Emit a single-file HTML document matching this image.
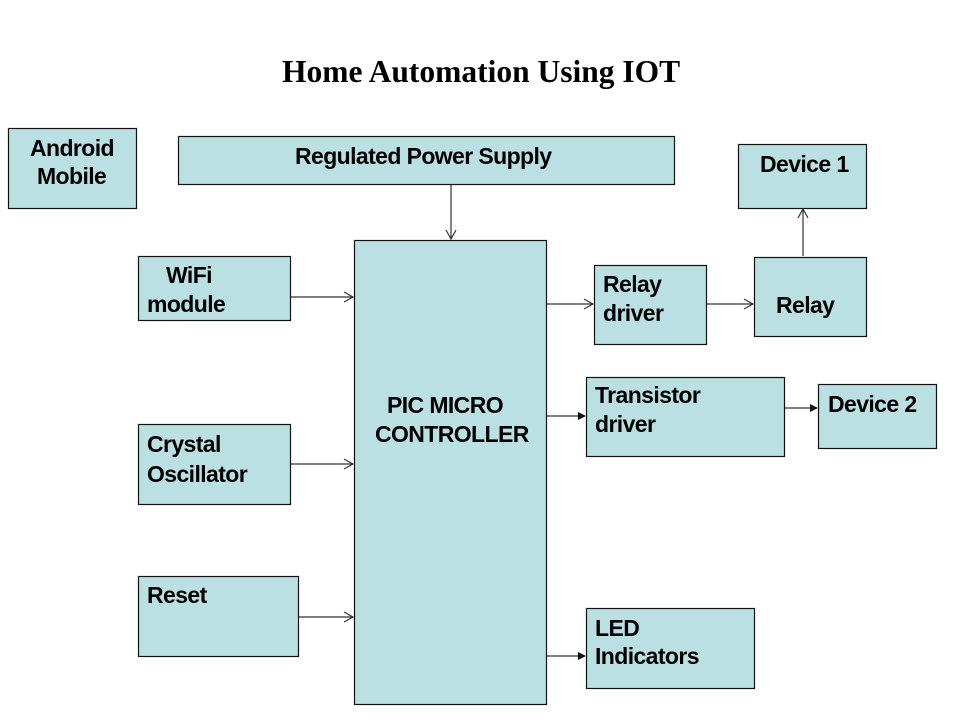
<!DOCTYPE html>
<html><head><meta charset="utf-8"><style>
html,body{margin:0;padding:0;background:#fff;}
svg{display:block;}
.b{fill:#BBE0E3;stroke:#111;stroke-width:1.2;}
.t{font-family:"Liberation Sans",Arial,sans-serif;font-weight:bold;font-size:23px;letter-spacing:-0.6px;fill:#000;}
.l{stroke:#333;stroke-width:1.2;fill:none;}
.f{fill:#111;stroke:none;}
</style></head><body>
<svg width="960" height="720" viewBox="0 0 960 720" xmlns="http://www.w3.org/2000/svg">
<rect width="960" height="720" fill="#fff"/>
<text x="282" y="82" font-family="Liberation Serif,Times New Roman,serif" font-weight="bold" font-size="31.5" fill="#000">Home Automation Using IOT</text>

<!-- boxes -->
<rect class="b" x="8.5" y="128.5" width="128" height="80"/>
<rect class="b" x="178.5" y="136.5" width="496" height="48"/>
<rect class="b" x="738.5" y="144.5" width="128" height="64"/>
<rect class="b" x="138.5" y="256.5" width="152" height="64"/>
<rect class="b" x="354.5" y="240.5" width="192" height="464"/>
<rect class="b" x="594.5" y="265.5" width="112" height="79"/>
<rect class="b" x="754.5" y="257.5" width="112" height="79"/>
<rect class="b" x="586.5" y="377.5" width="198" height="79"/>
<rect class="b" x="818.5" y="384.5" width="118" height="64"/>
<rect class="b" x="138.5" y="424.5" width="152" height="80"/>
<rect class="b" x="138.5" y="576.5" width="160" height="80"/>
<rect class="b" x="586.5" y="608.5" width="168" height="80"/>

<!-- text -->
<text class="t" x="30" y="156">Android</text>
<text class="t" x="37" y="184">Mobile</text>
<text class="t" x="295" y="164">Regulated Power Supply</text>
<text class="t" x="760" y="172">Device 1</text>
<text class="t" x="166" y="283">WiFi</text>
<text class="t" x="147" y="312">module</text>
<text class="t" x="603" y="292">Relay</text>
<text class="t" x="603" y="321">driver</text>
<text class="t" x="776" y="313">Relay</text>
<text class="t" x="387" y="413">PIC MICRO</text>
<text class="t" x="375" y="442">CONTROLLER</text>
<text class="t" x="595" y="403">Transistor</text>
<text class="t" x="595" y="432">driver</text>
<text class="t" x="828" y="412">Device 2</text>
<text class="t" x="147" y="452">Crystal</text>
<text class="t" x="147" y="482">Oscillator</text>
<text class="t" x="147" y="603">Reset</text>
<text class="t" x="595" y="636">LED</text>
<text class="t" x="595" y="664">Indicators</text>

<!-- connectors with open arrowheads -->
<path class="l" d="M451 185 V239 M446 230 L451 239 L456 230"/>
<path class="l" d="M803 256 V209 M798 218 L803 209 L808 218"/>
<path class="l" d="M291 297 H353 M344 292 L353 297 L344 302"/>
<path class="l" d="M291 464 H353 M344 459 L353 464 L344 469"/>
<path class="l" d="M299 617 H353 M344 612 L353 617 L344 622"/>
<path class="l" d="M547 304 H593 M584 299 L593 304 L584 309"/>
<path class="l" d="M707 304 H753 M744 299 L753 304 L744 309"/>

<!-- connectors with filled arrowheads -->
<path class="l" d="M547 416 H580"/>
<path class="f" d="M586 416 L578 412 L578 420 Z"/>
<path class="l" d="M785 408 H812"/>
<path class="f" d="M818 408 L810 404 L810 412 Z"/>
<path class="l" d="M547 656 H580"/>
<path class="f" d="M586 656 L578 652 L578 660 Z"/>
</svg>
</body></html>
